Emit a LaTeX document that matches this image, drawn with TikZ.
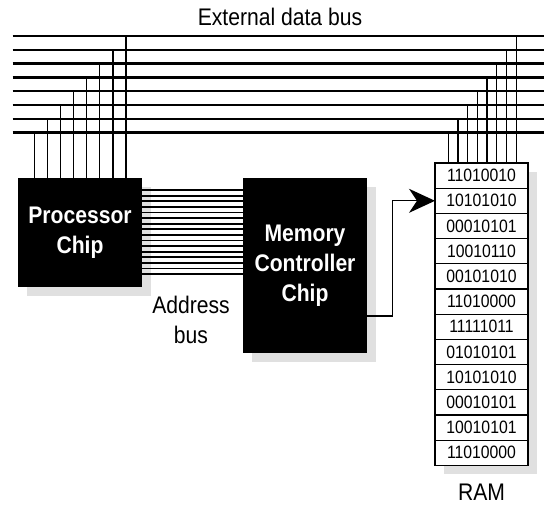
\documentclass[tikz,border=0pt]{standalone}
\usepackage{fontspec}
\setmainfont[FakeStretch=0.88]{Liberation Sans}
\usetikzlibrary{arrows.meta,shadows,positioning}

\begin{document}
\begin{tikzpicture}[x=1pt,y=-1pt]
\tikzstyle{chip}=[rectangle, fill=black, text=white, align=center, inner sep=0pt,
  font=\fontsize{24}{30}\selectfont\bfseries,
  drop shadow={shadow xshift=9pt, shadow yshift=-9pt, fill=black!12, opacity=1}]
\tikzstyle{cell}=[rectangle, draw, fill=white, line width=1.3pt, outer sep=0pt, inner sep=0pt,
  minimum width=93pt, minimum height=25.2pt, font=\fontsize{17.9}{20}\selectfont,
  drop shadow={shadow xshift=9pt, shadow yshift=-9pt, fill=black!12, draw=none, opacity=1}]
\tikzstyle{textlbl}=[font=\fontsize{24}{30}\selectfont, align=center, inner sep=0pt]
\tikzstyle{wire}=[line width=1.3pt]
\tikzstyle{busline}=[line width=2.3pt]
\useasboundingbox (0,0) rectangle (544,507);
\node (cpu) [chip, minimum width=124pt, minimum height=109pt] at (80,232.5) {Processor\\Chip};
\node (mc) [chip, minimum width=124pt, minimum height=175pt] at (305,265.5) {Memory\\Controller\\Chip};
\node (r1) [cell] at (481.5,175.6) {11010010};
\node (r2) [cell, below=0pt of r1] {10101010};
\node (r3) [cell, below=0pt of r2] {00010101};
\node (r4) [cell, below=0pt of r3] {10010110};
\node (r5) [cell, below=0pt of r4] {00101010};
\node (r6) [cell, below=0pt of r5] {11010000};
\node (r7) [cell, below=0pt of r6] {11111011};
\node (r8) [cell, below=0pt of r7] {01010101};
\node (r9) [cell, below=0pt of r8] {10101010};
\node (r10) [cell, below=0pt of r9] {00010101};
\node (r11) [cell, below=0pt of r10] {10010101};
\node (r12) [cell, below=0pt of r11] {11010000};
\node (ext) [textlbl, anchor=base] at (280,25) {External data bus};
\node (abus) [textlbl] at (191,320) {Address\\bus};
\node (ram) [textlbl, anchor=base] at (481.5,500) {RAM};
\foreach \k in {0,...,7} {
  \coordinate (bl\k) at (12.7,{36+13.8*\k});
  \coordinate (br\k) at (544,{36+13.8*\k});
  \draw[busline] (bl\k) -- (br\k);
}
\foreach \i in {0,...,7} {
  \pgfmathtruncatemacro\k{7-\i}
  \coordinate (pt\i) at ({34.3+13.1*\i},{36+13.8*\k});
  \coordinate (rt\i) at ({448.3+9.7*\i},{36+13.8*\k});
  \draw[wire] (pt\i) -- (pt\i |- cpu.north);
  \draw[wire] (rt\i) -- (rt\i |- r1.north);
}
\foreach \j in {0,...,15} {
  \coordinate (ab\j) at (190,{190+5.6*\j});
  \draw[line width=1.8pt] (cpu.east |- ab\j) -- (mc.west |- ab\j);
}
\coordinate (mco) at ([yshift=-50.5pt]mc.east);
\draw[wire, -{Stealth[length=26pt, width=24pt, inset=8pt]}] (mco) -- ++(25,0) |- (r2.west);
\end{tikzpicture}
\end{document}
